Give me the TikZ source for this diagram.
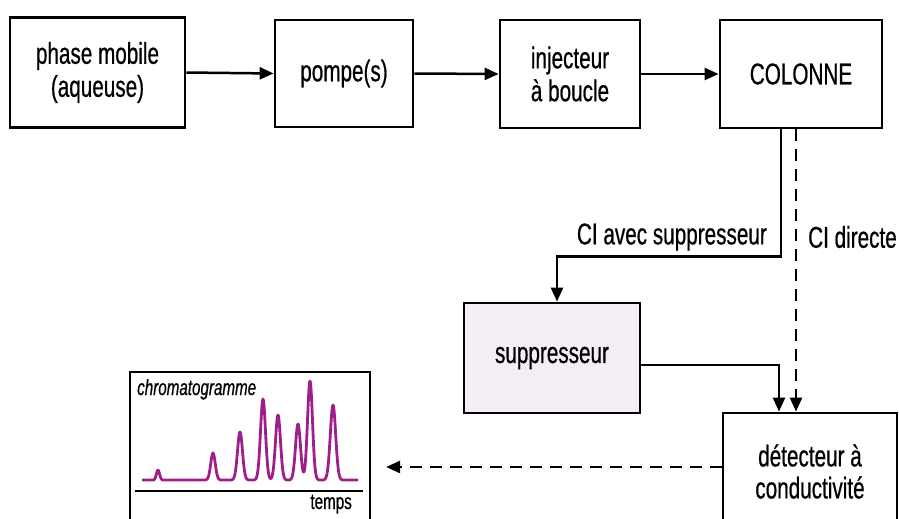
\documentclass[tikz,border=0pt]{standalone}
\usepackage{fontspec}
\setmainfont{Liberation Sans}[FakeStretch=0.69, FakeBold=0.6]
\usetikzlibrary{arrows.meta}
\definecolor{chroma}{RGB}{160,30,140}
\definecolor{suppfill}{RGB}{243,237,244}
\begin{document}
\begin{tikzpicture}[x=1pt,y=-1pt,
  box/.style={draw=black, line width=2.8pt, align=center, inner sep=0pt,
              font=\fontsize{30}{33}\selectfont},
  lbl/.style={inner sep=0pt, font=\fontsize{30}{33}\selectfont},
  flow/.style={line width=2.5pt, -{Triangle[length=14pt,width=12pt]}},
  flowd/.style={flow, dash pattern=on 12pt off 8pt},
  declare function={g(\x,\m,\h,\s)=\h*exp(-min(((\x-\m)/\s)^2,30));}
]
\useasboundingbox (0,0) rectangle (899,519);
\clip (0,0) rectangle (899,519);

\node[box, minimum width=175pt, minimum height=110pt] (mob) at (97.5,72.5) {phase mobile\\(aqueuse)};
\node[box, minimum width=138pt, minimum height=107pt] (pomp) at (344,73.5) {pompe(s)};
\node[box, minimum width=140pt, minimum height=108pt] (inj) at (570,74) {injecteur\\à boucle};
\node[box, minimum width=162pt, minimum height=108pt] (col) at (801,74) {COLONNE};
\node[box, fill=suppfill, minimum width=176pt, minimum height=110pt] (supp) at (552,358) {suppresseur};
\node[box, minimum width=174pt, minimum height=117pt, font=\fontsize{30}{32}\selectfont] (det) at (810,471.5) {détecteur à\\conductivité};

\node[lbl, anchor=east] (lavec) at (767,237) {CI avec suppresseur};
\node[lbl, anchor=west] (ldir) at (808,237) {CI directe};

\draw[flow] (mob.east) -- (pomp.west);
\draw[flow] (pomp.east) -- (inj.west);
\draw[flow] (inj.east) -- (col.west);
\draw[flow] ([xshift=-20pt]col.south) |- ([xshift=5pt,yshift=45pt]supp.north) -- ([xshift=5pt]supp.north);
\draw[flowd] ([xshift=-5pt]col.south) -- ([xshift=-5pt]col.south |- det.north);
\draw[flow] ([yshift=-7pt]supp.east) -| ([xshift=-31pt]det.north);

% chromatogram
\node[draw=black, line width=2.2pt, minimum width=240pt, minimum height=158pt, inner sep=0pt] (chr) at (250,451) {};
\draw[flowd, shorten >=15pt] ([yshift=4.5pt]det.west) -- ([yshift=4.5pt]det.west -| chr.east);
\node[inner sep=0pt, anchor=base west, font=\fontsize{22}{24}\selectfont\itshape] (ctitle) at (137,395) {chromatogramme};
\node[inner sep=0pt, anchor=base east, font=\fontsize{22}{24}\selectfont] (ctemps) at (352,509) {temps};
\coordinate (axl) at (135,491);
\coordinate (axr) at (363,491);
\draw[line width=2.2pt] (axl) -- (axr);
\draw[chroma, line width=2.8pt, line join=round, domain=142:358, samples=433]
  plot (\x, {480 - g(\x,158,10,2.2) - g(\x,213,27,3.2) - g(\x,240,48,3.5)
         - g(\x,263,81,3.5) - g(\x,278,65,3.5) - g(\x,298,56,3.5)
         - g(\x,310,99,3.5) - g(\x,333,75,3.8)});
\end{tikzpicture}
\end{document}
